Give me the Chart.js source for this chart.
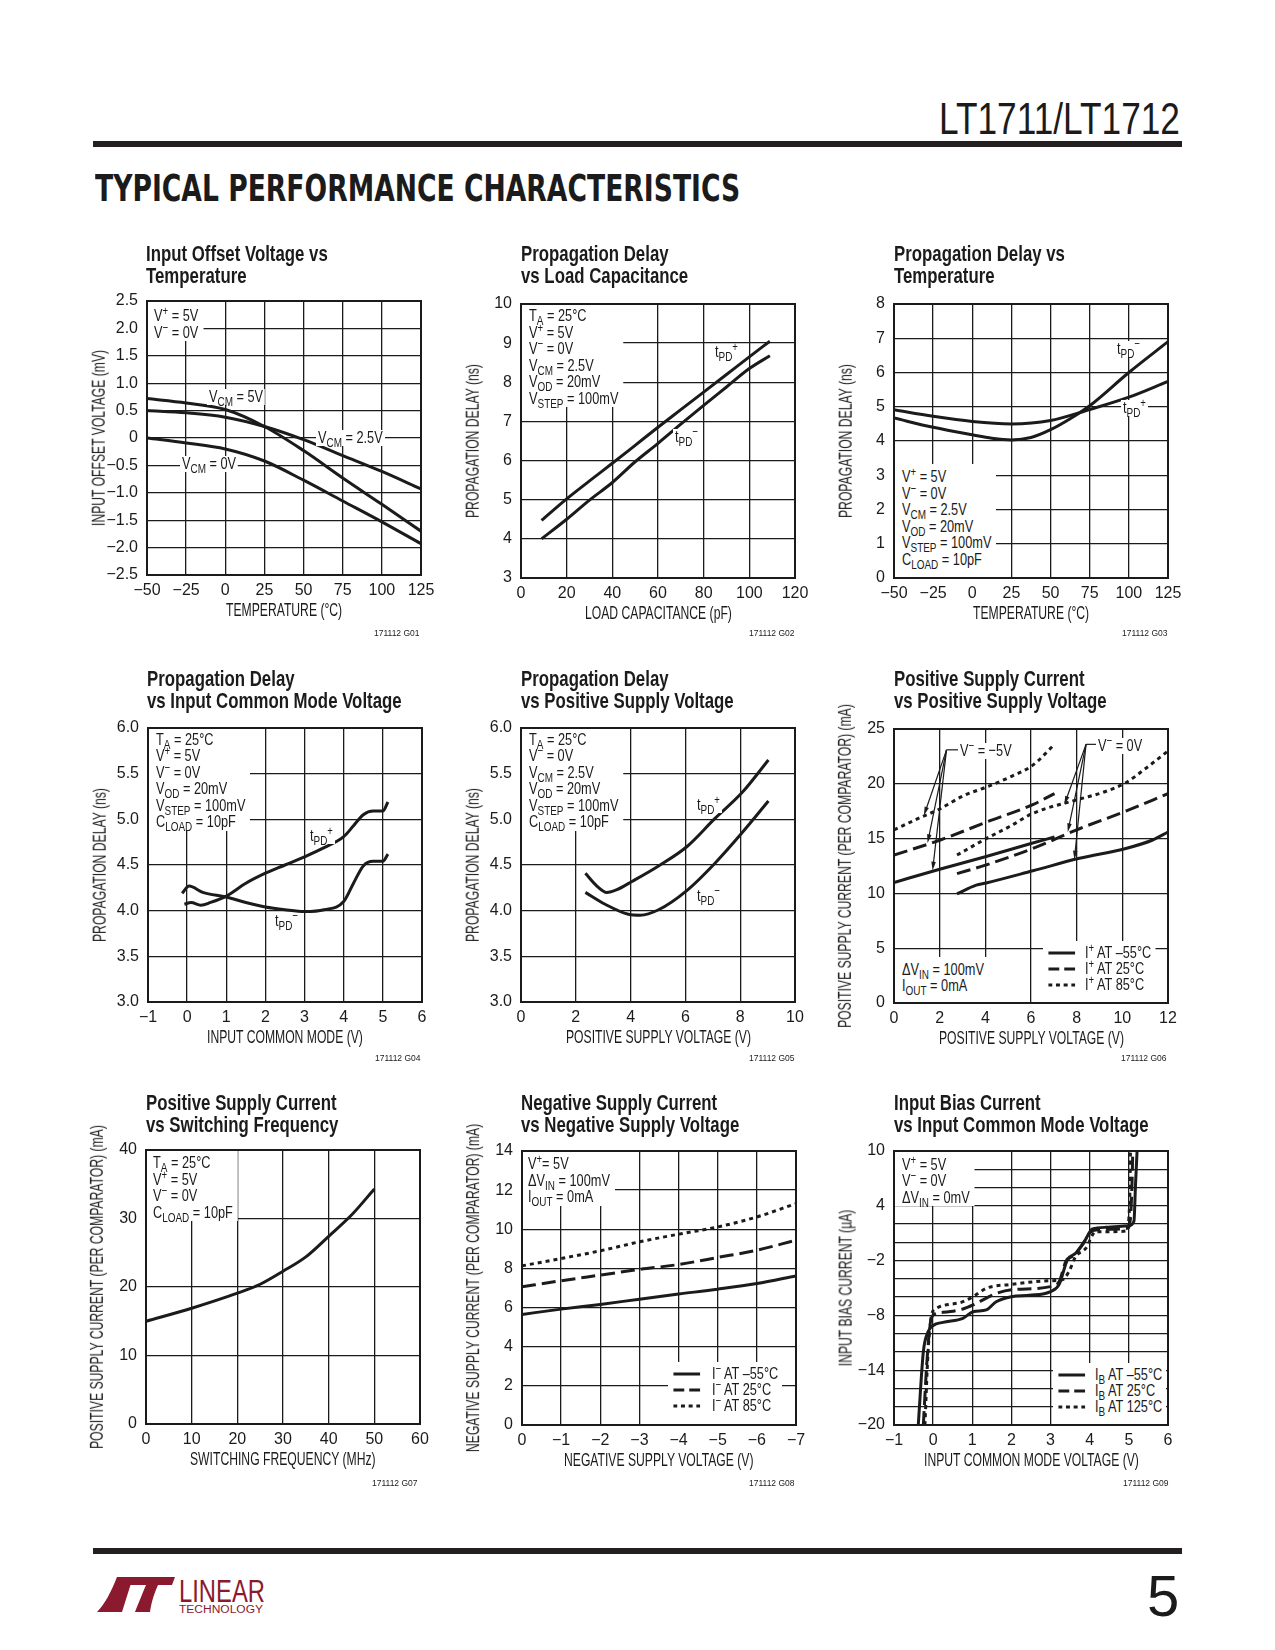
<!DOCTYPE html>
<html>
<head>
<meta charset="utf-8">
<script src="https://cdn.jsdelivr.net/npm/chart.js@4.4.0/dist/chart.umd.min.js"></script>
<style>
  body { margin: 0; background: #fff; }
  #page { position: relative; width: 1275px; height: 1650px; overflow: hidden; background: #fff;
    font-family: "Liberation Sans", Arial, sans-serif; color: #1b1b1b; }
  canvas { position: absolute; }
  .rule { position: absolute; left: 93px; width: 1089px; height: 6px; background: #231f20; }
  .sq { transform-origin: 0 0; }
  .ttl { position: absolute; font-weight: bold; font-size: 22px; line-height: 22.3px; white-space: nowrap; }
  .note { position: absolute; background: #fff; font-size: 17px; line-height: 16.5px; white-space: nowrap; box-sizing: border-box; }
  .tag { position: absolute; background: #fff; font-size: 17px; line-height: 16px; white-space: nowrap; }
  .axt { position: absolute; font-size: 17.5px; line-height: 18px; white-space: nowrap; }
  .gid { position: absolute; font-size: 8.5px; line-height: 10px; white-space: nowrap; }
  .leg { position: absolute; background: #fff; font-size: 17px; box-sizing: border-box; }
  .leg > div { display: flex; align-items: center; height: 16px; white-space: nowrap; }
  sub { font-size: 0.78em; vertical-align: -0.32em; line-height: 0; }
  sup { font-size: 0.75em; vertical-align: 0.45em; line-height: 0; }
</style>
</head>
<body>
<div id="page">
  <div id="partNo" class="sq" style="position:absolute;left:939px;top:97px;font-size:44px;line-height:44px;white-space:nowrap;">LT1711/LT1712</div>
  <div class="rule" style="top:141px;"></div>
  <div id="section" class="sq" style="position:absolute;left:95px;top:169px;font-family:'DejaVu Sans',sans-serif;font-weight:bold;font-size:38px;line-height:38px;white-space:nowrap;">TYPICAL PERFORMANCE CHARACTERISTICS</div>
  <div class="rule" style="top:1548px;"></div>
  <svg style="position:absolute;left:95px;top:1574px;" width="180" height="42" viewBox="0 0 180 42">
    <path d="M22 3 L38 3 L27 38 L2 38 C10 30 16 18 22 3 Z" fill="#8b1a2e"/>
    <path d="M36 3 L80 3 L77 11 L63 11 C58 22 56 31 55 38 L40 38 C44 28 48 18 51 11 L34 11 Z" fill="#8b1a2e"/>
    <text x="84" y="28" font-family="Liberation Sans, Arial, sans-serif" font-size="31" fill="#8b1a2e" textLength="86" lengthAdjust="spacingAndGlyphs">LINEAR</text>
    <text x="84" y="39" font-family="Liberation Sans, Arial, sans-serif" font-size="10" fill="#8b1a2e" textLength="84" lengthAdjust="spacingAndGlyphs">TECHNOLOGY</text>
  </svg>
  <div style="position:absolute;left:1147px;top:1567px;font-size:58px;line-height:58px;">5</div>
</div>
<script>
const INK = "#1b1b1b";
Chart.defaults.font.family = '"Liberation Sans", Arial, sans-serif';
Chart.defaults.color = INK;

// ---- G01 input offset voltage vs temperature
const g01Temp = [-50, -25, 0, 25, 50, 75, 100, 125];
const g01Vcm5 = [0.72, 0.64, 0.52, 0.21, -0.23, -0.73, -1.21, -1.70];
const g01Vcm25 = [0.50, 0.46, 0.38, 0.21, -0.03, -0.32, -0.61, -0.93];
const g01Vcm0 = [0.0, -0.09, -0.20, -0.42, -0.77, -1.15, -1.53, -1.93];
const g01XTicks = [-50, -25, 0, 25, 50, 75, 100, 125];
const g01XLabels = ["−50", "−25", "0", "25", "50", "75", "100", "125"];
const g01YTicks = [-2.5, -2.0, -1.5, -1.0, -0.5, 0, 0.5, 1.0, 1.5, 2.0, 2.5];
const g01YLabels = ["−2.5", "−2.0", "−1.5", "−1.0", "−0.5", "0", "0.5", "1.0", "1.5", "2.0", "2.5"];

// ---- G02 propagation delay vs load capacitance
const g02CapPlus = [9, 20, 30, 40, 50, 60, 70, 80, 90, 100, 109];
const g02TpdPlus = [4.47, 5.02, 5.48, 5.93, 6.39, 6.85, 7.30, 7.75, 8.20, 8.65, 9.05];
const g02CapMinus = [9, 20, 30, 40, 50, 60, 70, 80, 90, 100, 109];
const g02TpdMinus = [4.0, 4.5, 4.99, 5.44, 5.97, 6.44, 6.93, 7.41, 7.88, 8.35, 8.68];
const g02XTicks = [0, 20, 40, 60, 80, 100, 120];
const g02XLabels = ["0", "20", "40", "60", "80", "100", "120"];
const g02YTicks = [3, 4, 5, 6, 7, 8, 9, 10];
const g02YLabels = ["3", "4", "5", "6", "7", "8", "9", "10"];

// ---- G03 propagation delay vs temperature
const g03TempPlus = [-50, -25, 0, 25, 50, 75, 100, 125];
const g03TpdPlus = [4.91, 4.72, 4.57, 4.50, 4.60, 4.92, 5.28, 5.74];
const g03TempMinus = [-50, -25, 0, 12.5, 25, 37.5, 50, 62.5, 75, 100, 125];
const g03TpdMinus = [4.67, 4.40, 4.18, 4.08, 4.03, 4.10, 4.33, 4.65, 5.03, 6.0, 6.9];
const g03YTicks = [0, 1, 2, 3, 4, 5, 6, 7, 8];
const g03YLabels = ["0", "1", "2", "3", "4", "5", "6", "7", "8"];

// ---- G04 propagation delay vs input common mode
const g04VcmPlus = [-0.07, 0.1, 0.35, 0.6, 1.0, 1.5, 2.0, 2.5, 3.0, 3.5, 4.0, 4.25, 4.5, 4.75, 5.0, 5.13];
const g04TpdPlus = [4.07, 4.09, 4.06, 4.09, 4.16, 4.30, 4.41, 4.50, 4.59, 4.69, 4.81, 4.93, 5.05, 5.09, 5.09, 5.19];
const g04VcmMinus = [-0.13, 0.05, 0.4, 1.0, 1.5, 2.0, 2.5, 3.0, 3.5, 4.0, 4.25, 4.5, 4.75, 5.0, 5.13];
const g04TpdMinus = [4.19, 4.27, 4.20, 4.15, 4.09, 4.04, 4.01, 3.99, 4.01, 4.10, 4.30, 4.49, 4.54, 4.54, 4.62];
const g04XTicks = [-1, 0, 1, 2, 3, 4, 5, 6];
const g04XLabels = ["−1", "0", "1", "2", "3", "4", "5", "6"];
const g04YTicks = [3.0, 3.5, 4.0, 4.5, 5.0, 5.5, 6.0];
const g04YLabels = ["3.0", "3.5", "4.0", "4.5", "5.0", "5.5", "6.0"];

// ---- G05 propagation delay vs positive supply
const g05VPlus = [2.35, 2.77, 3.13, 3.5, 4.05, 5.02, 6.05, 7.08, 8.06, 9.03];
const g05TpdPlus = [4.41, 4.27, 4.20, 4.23, 4.32, 4.49, 4.70, 5.01, 5.29, 5.65];
const g05VMinus = [2.35, 3.07, 3.92, 4.35, 5.02, 6.05, 7.08, 8.06, 9.03];
const g05TpdMinus = [4.20, 4.07, 3.96, 3.95, 4.01, 4.22, 4.52, 4.85, 5.20];
const g05XTicks = [0, 2, 4, 6, 8, 10];
const g05XLabels = ["0", "2", "4", "6", "8", "10"];

// ---- G06 positive supply current vs positive supply
const g06SolidNeg5X = [0, 2, 4, 6, 7.03];
const g06SolidNeg5 = [11.0, 12.2, 13.35, 14.55, 15.15];
const g06DashNeg5X = [0, 2, 4.04, 6.08, 7.03];
const g06DashNeg5 = [13.5, 14.85, 16.5, 18.1, 19.1];
const g06DotNeg5X = [0, 1.13, 2, 3.03, 4.04, 5.06, 6.08, 7.03];
const g06DotNeg5 = [15.8, 16.9, 17.7, 18.9, 19.7, 20.6, 21.7, 23.6];
const g06SolidZeroX = [2.76, 3.6, 4.04, 6.08, 8.12, 10.15, 11.3, 12];
const g06SolidZero = [9.95, 10.75, 10.95, 12.06, 13.2, 14.1, 14.85, 15.6];
const g06DashZeroX = [2.76, 4.04, 6.08, 8.12, 10.15, 12];
const g06DashZero = [11.8, 12.6, 14.1, 15.9, 17.5, 19.1];
const g06DotZeroX = [2.76, 4.04, 5.06, 6.08, 8.12, 9.13, 10.15, 11.02, 12];
const g06DotZero = [13.5, 15.0, 16.1, 17.3, 18.6, 19.2, 20.1, 21.4, 23.0];
const g06XTicks = [0, 2, 4, 6, 8, 10, 12];
const g06XLabels = ["0", "2", "4", "6", "8", "10", "12"];
const g06YTicks = [0, 5, 10, 15, 20, 25];
const g06YLabels = ["0", "5", "10", "15", "20", "25"];
// callout arrows: vertex, end of leader line, arrow tips (data units)
const g06CalloutNeg5 = { vertex: [2.3, 23.1], lead: 2.85, tips: [[1.31, 17.1], [1.47, 14.6], [1.69, 12.1]] };
const g06CalloutZero = { vertex: [8.41, 23.6], lead: 8.92, tips: [[7.46, 18.1], [7.61, 15.6], [7.9, 13.1]] };

// ---- G07 positive supply current vs switching frequency
const g07Freq = [0, 10, 20, 25, 30, 35, 40, 45, 50];
const g07Current = [15.0, 16.9, 19.1, 20.4, 22.3, 24.4, 27.4, 30.5, 34.3];
const g07XTicks = [0, 10, 20, 30, 40, 50, 60];
const g07XLabels = ["0", "10", "20", "30", "40", "50", "60"];
const g07YTicks = [0, 10, 20, 30, 40];
const g07YLabels = ["0", "10", "20", "30", "40"];

// ---- G08 negative supply current vs negative supply
const g08Vneg = [0, -1, -2, -3, -4, -5, -6, -7];
const g08Cold = [5.65, 5.92, 6.16, 6.43, 6.69, 6.94, 7.23, 7.62];
const g08Room = [7.06, 7.37, 7.66, 7.95, 8.20, 8.56, 8.93, 9.44];
const g08Hot = [8.13, 8.51, 8.90, 9.36, 9.75, 10.12, 10.63, 11.31];
const g08XTicks = [-7, -6, -5, -4, -3, -2, -1, 0];
const g08XLabels = ["−7", "−6", "−5", "−4", "−3", "−2", "−1", "0"];
const g08YTicks = [0, 2, 4, 6, 8, 10, 12, 14];
const g08YLabels = ["0", "2", "4", "6", "8", "10", "12", "14"];

// ---- G09 input bias current vs input common mode
const g09ColdX = [-0.38, -0.25, -0.13, 0, 0.25, 0.76, 1.02, 1.36, 1.61, 2.0, 2.46, 3.0, 3.22, 3.43, 3.64, 3.86, 4.07, 4.41, 5.0, 5.13, 5.17, 5.21];
const g09Cold = [-20, -11.97, -9.8, -9.1, -8.76, -8.32, -7.6, -7.4, -6.5, -5.95, -5.8, -5.4, -4.6, -1.9, -1.2, 0.07, 1.46, 1.64, 1.82, 2.3, 6.3, 10];
const g09RoomX = [-0.25, -0.17, -0.08, 0, 0.25, 0.76, 1.02, 1.36, 1.61, 2.0, 3.0, 3.22, 3.39, 3.6, 3.81, 4.07, 4.41, 4.96, 5.04, 5.08, 5.1];
const g09Room = [-20, -13.8, -9.05, -7.96, -7.66, -7.3, -6.86, -6.1, -5.6, -5.2, -4.85, -4.3, -2.1, -1.4, -0.3, 1.28, 1.42, 1.53, 2.6, 6.3, 10];
const g09HotX = [-0.21, -0.13, -0.04, 0.08, 0.76, 1.02, 1.36, 2.0, 3.0, 3.3, 3.47, 3.64, 3.9, 4.15, 4.58, 4.96, 5.0, 5.03, 5.04];
const g09Hot = [-20, -12, -7.96, -7.23, -6.5, -5.95, -5.03, -4.6, -4.2, -4.1, -3.2, -1.57, -0.66, 1.17, 1.17, 1.28, 2.6, 6.3, 10];
const g09YTicks = [-20, -18, -16, -14, -12, -10, -8, -6, -4, -2, 0, 2, 4, 6, 8, 10];
const g09YLabels = ["−20", "", "", "−14", "", "", "−8", "", "", "−2", "", "", "4", "", "", "10"];

const page = document.getElementById("page");
const SOLID = [];
const DASH = [14, 6];
const DOT = [4, 4];
const K_TEXT = 0.75; // condensed look for notes / labels
const K_AXIS = 0.695; // condensed look for axis titles
const K_TITLE = 0.764;

function pts(xs, ys) {
  return xs.map((x, i) => ({ x: x, y: ys[i] }));
}

function line(xs, ys, dash) {
  return {
    data: pts(xs, ys),
    borderColor: INK,
    borderWidth: 3,
    borderDash: dash,
    borderCapStyle: "butt",
    pointRadius: 0,
    cubicInterpolationMode: "monotone",
    fill: false,
  };
}

function axis(tickVals, tickLabels, isX, extra) {
  return Object.assign(
    {
      type: "linear",
      min: Math.min(...tickVals),
      max: Math.max(...tickVals),
      afterBuildTicks: (s) => {
        s.ticks = tickVals.map((v) => ({ value: v }));
      },
      afterFit: (s) => {
        if (isX) s.height = 55;
        else s.width = 80;
      },
      grid: { color: INK, lineWidth: 1.3, drawTicks: false },
      border: { display: false },
      ticks: {
        color: INK,
        autoSkip: false,
        maxRotation: 0,
        padding: isX ? 6 : 9,
        font: { size: 16 },
        callback: (v, i) => tickLabels[i],
      },
      title: { display: false },
    },
    extra || {}
  );
}

const framePlugin = {
  id: "frame",
  beforeDatasetsDraw(chart) {
    const { ctx, chartArea: a } = chart;
    ctx.save();
    ctx.strokeStyle = INK;
    ctx.lineWidth = 2;
    ctx.strokeRect(a.left, a.top, a.right - a.left, a.bottom - a.top);
    ctx.restore();
  },
};

function addDiv(cls, left, top, html, styles, k) {
  const d = document.createElement("div");
  d.className = cls;
  d.style.left = left + "px";
  d.style.top = top + "px";
  if (styles) Object.assign(d.style, styles);
  if (k) {
    d.style.transformOrigin = "0 0";
    d.style.transform = "scaleX(" + k + ")";
  }
  d.innerHTML = html;
  page.appendChild(d);
  return d;
}

// chart with its plot area at (L, T), 274 x 274 px, plus axis titles
function plot(L, T, datasets, xAxis, yAxis, xTitle, yTitle, extraPlugins) {
  const cv = document.createElement("canvas");
  cv.width = 380;
  cv.height = 374;
  cv.style.left = L - 80 + "px";
  cv.style.top = T - 45 + "px";
  page.appendChild(cv);
  const xt = addDiv("axt", 0, T + 274 + 35 - 9, xTitle, null, K_AXIS);
  xt.style.left = L + 137 - (xt.offsetWidth * K_AXIS) / 2 + "px";
  const yt = addDiv("axt", 0, 0, yTitle);
  const w = yt.offsetWidth;
  yt.style.left = L - 49 - w / 2 + "px";
  yt.style.top = T + 137 - 9 + "px";
  yt.style.transform = "rotate(-90deg) scaleX(" + K_AXIS + ")";
  yt.style.transformOrigin = "50% 50%";
  return new Chart(cv, {
    type: "line",
    data: { datasets: datasets },
    options: {
      responsive: false,
      animation: false,
      devicePixelRatio: 1,
      layout: { padding: { left: 0, top: 45, right: 26, bottom: 0 } },
      plugins: { legend: { display: false }, tooltip: { enabled: false } },
      scales: { x: xAxis, y: yAxis },
    },
    plugins: [framePlugin].concat(extraPlugins || []),
  });
}

function title(L, top, lines) {
  addDiv("ttl", L, top, lines.join("<br>"), null, K_TITLE);
}
function chartId(right, center, text) {
  const d = addDiv("gid", 0, center - 5, text);
  d.style.left = right - d.offsetWidth + "px";
}
// note box hugging the top-left (or bottom-left) corner of the plot
function note(L, T, textLeft, firstCenter, lines, atBottom) {
  const padL = (textLeft - L - 1) / K_TEXT;
  const styles = { paddingLeft: padL + "px", paddingRight: 5 / K_TEXT + "px" };
  let top;
  if (atBottom) {
    top = firstCenter - 8.25 - 5;
    styles.paddingTop = "5px";
    styles.height = T + 273 - top + "px";
  } else {
    top = T + 1;
    styles.paddingTop = firstCenter - 8.25 - top + "px";
  }
  addDiv("note", L + 1, top, lines.join("<br>"), styles, K_TEXT);
}
function tag(left, center, html) {
  addDiv("tag", left - 2, center - 8, html, { padding: "0 " + 2 / K_TEXT + "px" }, K_TEXT);
}
function legend(lineLeft, firstCenter, bottom, gap, rows) {
  const top = firstCenter - 8 - 4;
  const sw = 27 / K_TEXT;
  const html = rows
    .map((r) => {
      const dash = r[0].length ? ' stroke-dasharray="' + r[0].map((v) => v / K_TEXT).join(" ") + '"' : "";
      return (
        '<div><svg width="' + sw + '" height="6" style="margin-right:' + gap / K_TEXT + 'px"><line x1="0" y1="3" x2="' + sw +
        '" y2="3" stroke="' + INK + '" stroke-width="3"' + dash + "/></svg><span>" + r[1] + "</span></div>"
      );
    })
    .join("");
  addDiv("leg", lineLeft - 5, top, html,
    { height: bottom - top + "px", padding: "4px " + 4 / K_TEXT + "px 0 " + 5 / K_TEXT + "px" }, K_TEXT);
}

// ---------- charts ----------
const V_PLUS5 = "V<sup>+</sup> = 5V", V_MIN0 = "V<sup>−</sup> = 0V", TA25 = "T<sub>A</sub> = 25°C";
const VCM25 = "V<sub>CM</sub> = 2.5V", VOD = "V<sub>OD</sub> = 20mV", VSTEP = "V<sub>STEP</sub> = 100mV";
const CLOAD = "C<sub>LOAD</sub> = 10pF", TPDP = "t<sub>PD</sub><sup>+</sup>", TPDM = "t<sub>PD</sub><sup>−</sup>";
const PROP = "PROPAGATION DELAY (ns)";

// G01
plot(147, 301,
  [line(g01Temp, g01Vcm5, SOLID), line(g01Temp, g01Vcm25, SOLID), line(g01Temp, g01Vcm0, SOLID)],
  axis(g01XTicks, g01XLabels, true), axis(g01YTicks, g01YLabels, false),
  "TEMPERATURE (°C)", "INPUT OFFSET VOLTAGE (mV)");
title(146, 243, ["Input Offset Voltage vs", "Temperature"]);
note(147, 301, 154, 316.7, [V_PLUS5, V_MIN0]);
tag(209, 396.5, "V<sub>CM</sub> = 5V");
tag(318, 437.5, "V<sub>CM</sub> = 2.5V");
tag(182, 464, "V<sub>CM</sub> = 0V");
chartId(420, 633, "171112 G01");

// G02
plot(521, 304,
  [line(g02CapPlus, g02TpdPlus, SOLID), line(g02CapMinus, g02TpdMinus, SOLID)],
  axis(g02XTicks, g02XLabels, true), axis(g02YTicks, g02YLabels, false),
  "LOAD CAPACITANCE (pF)", PROP);
title(521, 243, ["Propagation Delay", "vs Load Capacitance"]);
note(521, 304, 529, 316.7, [TA25, V_PLUS5, V_MIN0, VCM25, VOD, VSTEP]);
tag(715, 352, TPDP);
tag(675, 436.5, TPDM);
chartId(795, 633, "171112 G02");

// G03
plot(894, 304,
  [line(g03TempPlus, g03TpdPlus, SOLID), line(g03TempMinus, g03TpdMinus, SOLID)],
  axis(g01XTicks, g01XLabels, true), axis(g03YTicks, g03YLabels, false),
  "TEMPERATURE (°C)", PROP);
title(894, 243, ["Propagation Delay vs", "Temperature"]);
note(894, 304, 902, 477.3, [V_PLUS5, V_MIN0, VCM25, VOD, VSTEP, CLOAD], true);
tag(1117, 349, TPDM);
tag(1123, 408, TPDP);
chartId(1168, 633, "171112 G03");

// G04
plot(148, 728,
  [line(g04VcmPlus, g04TpdPlus, SOLID), line(g04VcmMinus, g04TpdMinus, SOLID)],
  axis(g04XTicks, g04XLabels, true), axis(g04YTicks, g04YLabels, false),
  "INPUT COMMON MODE (V)", PROP);
title(147, 668, ["Propagation Delay", "vs Input Common Mode Voltage"]);
note(148, 728, 156, 740, [TA25, V_PLUS5, V_MIN0, VOD, VSTEP, CLOAD]);
tag(310, 836, TPDP);
tag(275, 921, TPDM);
chartId(421, 1058, "171112 G04");

// G05
plot(521, 728,
  [line(g05VPlus, g05TpdPlus, SOLID), line(g05VMinus, g05TpdMinus, SOLID)],
  axis(g05XTicks, g05XLabels, true), axis(g04YTicks, g04YLabels, false),
  "POSITIVE SUPPLY VOLTAGE (V)", PROP);
title(521, 668, ["Propagation Delay", "vs Positive Supply Voltage"]);
note(521, 728, 529, 740, [TA25, V_MIN0, VCM25, VOD, VSTEP, CLOAD]);
tag(697, 805, TPDP);
tag(697, 896, TPDM);
chartId(795, 1058, "171112 G05");

// G06
const calloutPlugin = {
  id: "callouts",
  afterDatasetsDraw(chart) {
    const { ctx, scales } = chart;
    const px = (p) => [scales.x.getPixelForValue(p[0]), scales.y.getPixelForValue(p[1])];
    ctx.save();
    ctx.strokeStyle = INK;
    ctx.fillStyle = INK;
    ctx.lineWidth = 1.2;
    [g06CalloutNeg5, g06CalloutZero].forEach((c) => {
      const v = px(c.vertex);
      const lead = px([c.lead, c.vertex[1]]);
      ctx.beginPath();
      ctx.moveTo(v[0], v[1]);
      ctx.lineTo(lead[0], lead[1]);
      ctx.stroke();
      c.tips.forEach((t) => {
        const p = px(t);
        const ang = Math.atan2(p[1] - v[1], p[0] - v[0]);
        ctx.beginPath();
        ctx.moveTo(v[0], v[1]);
        ctx.lineTo(p[0] - 7 * Math.cos(ang), p[1] - 7 * Math.sin(ang));
        ctx.stroke();
        ctx.beginPath();
        ctx.moveTo(p[0], p[1]);
        ctx.lineTo(p[0] - 9 * Math.cos(ang - 0.25), p[1] - 9 * Math.sin(ang - 0.25));
        ctx.lineTo(p[0] - 9 * Math.cos(ang + 0.25), p[1] - 9 * Math.sin(ang + 0.25));
        ctx.closePath();
        ctx.fill();
      });
    });
    ctx.restore();
  },
};
plot(894, 729,
  [
    line(g06SolidNeg5X, g06SolidNeg5, SOLID), line(g06DashNeg5X, g06DashNeg5, DASH), line(g06DotNeg5X, g06DotNeg5, DOT),
    line(g06SolidZeroX, g06SolidZero, SOLID), line(g06DashZeroX, g06DashZero, DASH), line(g06DotZeroX, g06DotZero, DOT),
  ],
  axis(g06XTicks, g06XLabels, true), axis(g06YTicks, g06YLabels, false),
  "POSITIVE SUPPLY VOLTAGE (V)", "POSITIVE SUPPLY CURRENT (PER COMPARATOR) (mA)",
  [calloutPlugin]);
title(894, 668, ["Positive Supply Current", "vs Positive Supply Voltage"]);
note(894, 729, 902, 970, ["ΔV<sub>IN</sub> = 100mV", "I<sub>OUT</sub> = 0mA"], true);
tag(960, 751, "V<sup>−</sup> = −5V");
tag(1098, 746, "V<sup>−</sup> = 0V");
legend(1048, 952.5, 1002, 10, [[SOLID, "I<sup>+</sup> AT –55°C"], [[11, 5], "I<sup>+</sup> AT 25°C"], [[4, 3.7], "I<sup>+</sup> AT 85°C"]]);
chartId(1167, 1058, "171112 G06");

// G07
plot(146, 1150,
  [line(g07Freq, g07Current, SOLID)],
  axis(g07XTicks, g07XLabels, true), axis(g07YTicks, g07YLabels, false),
  "SWITCHING FREQUENCY (MHz)", "POSITIVE SUPPLY CURRENT (PER COMPARATOR) (mA)");
title(146, 1092, ["Positive Supply Current", "vs Switching Frequency"]);
note(146, 1150, 153, 1163.3, [TA25, V_PLUS5, V_MIN0, CLOAD]);
chartId(418, 1483, "171112 G07");

// G08
plot(522, 1151,
  [line(g08Vneg, g08Cold, SOLID), line(g08Vneg, g08Room, DASH), line(g08Vneg, g08Hot, DOT)],
  axis(g08XTicks, g08XLabels, true, { reverse: true }), axis(g08YTicks, g08YLabels, false),
  "NEGATIVE SUPPLY VOLTAGE (V)", "NEGATIVE SUPPLY CURRENT (PER COMPARATOR) (mA)");
title(521, 1092, ["Negative Supply Current", "vs Negative Supply Voltage"]);
note(522, 1151, 528, 1164.3, ["V<sup>+</sup>= 5V", "ΔV<sub>IN</sub> = 100mV", "I<sub>OUT</sub> = 0mA"]);
legend(673, 1374, 1424, 12, [[SOLID, "I<sup>−</sup> AT –55°C"], [[11, 5], "I<sup>−</sup> AT 25°C"], [[4, 3.7], "I<sup>−</sup> AT 85°C"]]);
chartId(795, 1483, "171112 G08");

// G09
plot(894, 1151,
  [line(g09ColdX, g09Cold, SOLID), line(g09RoomX, g09Room, DASH), line(g09HotX, g09Hot, DOT)],
  axis(g04XTicks, g04XLabels, true), axis(g09YTicks, g09YLabels, false),
  "INPUT COMMON MODE VOLTAGE (V)", "INPUT BIAS CURRENT (µA)");
title(894, 1092, ["Input Bias Current", "vs Input Common Mode Voltage"]);
note(894, 1151, 902, 1165, [V_PLUS5, V_MIN0, "ΔV<sub>IN</sub> = 0mV"]);
legend(1058, 1375, 1424, 10, [[SOLID, "I<sub>B</sub> AT –55°C"], [[11, 5], "I<sub>B</sub> AT 25°C"], [[4, 3.7], "I<sub>B</sub> AT 125°C"]]);
chartId(1169, 1483, "171112 G09");

// stretch the page headings to their printed widths
function fitWidth(id, width) {
  const el = document.getElementById(id);
  el.style.transform = "scaleX(" + width / el.offsetWidth + ")";
}
fitWidth("partNo", 241);
fitWidth("section", 645);
</script>
</body>
</html>
